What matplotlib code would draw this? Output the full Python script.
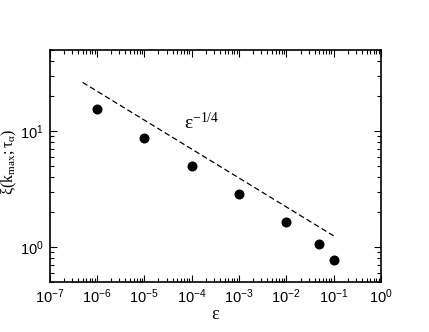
#!/usr/bin/env python3

import math
import matplotlib as mpl
import matplotlib.pyplot as plt
from matplotlib.ticker import LogLocator, FuncFormatter, NullFormatter

# data
eps = [1e-6, 1e-5, 1e-4, 1e-3, 1e-2, 5e-2, 1e-1]
xi = [15.4, 8.7, 4.97, 2.86, 1.66, 1.07, 0.77]

# dashed guide line eps^-1/4 (end points)
guide_x = [5e-7, 1e-1]
guide_y = [26.3, 1.25]

mpl.rcParams['mathtext.fontset'] = 'custom'
mpl.rcParams['mathtext.rm'] = 'Liberation Serif'
mpl.rcParams['mathtext.it'] = 'Liberation Serif:italic'
mpl.rcParams['mathtext.sf'] = 'Liberation Sans'
mpl.rcParams['font.family'] = ['Liberation Sans', 'DejaVu Sans']

fig = plt.figure(figsize=(4.29, 3.32), dpi=100)
ax = fig.add_axes([0.1154, 0.1506, 0.7726, 0.6988])

ax.plot(eps, xi, 'o', color='black', markersize=6.2, zorder=3)
ax.plot(guide_x, guide_y, '--', color='black', linewidth=0.9, dashes=(4.5, 2.5))

ax.set_xscale('log')
ax.set_yscale('log')
ax.set_xlim(1e-7, 1e0)
ax.set_ylim(0.5, 50)

fmt = FuncFormatter(lambda v, p: r'$\mathsf{10^{%d}}$' % round(math.log10(v)))
ax.xaxis.set_major_locator(LogLocator(base=10, numticks=20))
ax.xaxis.set_minor_locator(LogLocator(base=10, subs=range(2, 10), numticks=100))
ax.yaxis.set_major_locator(LogLocator(base=10, numticks=20))
ax.yaxis.set_minor_locator(LogLocator(base=10, subs=range(2, 10), numticks=100))
ax.xaxis.set_major_formatter(fmt)
ax.yaxis.set_major_formatter(fmt)
ax.xaxis.set_minor_formatter(NullFormatter())
ax.yaxis.set_minor_formatter(NullFormatter())

ax.tick_params(which='both', direction='in', top=True, right=True, labelsize=10.5, width=0.8)
ax.tick_params(which='major', length=5, pad=4)
ax.tick_params(which='minor', length=3)
for s in ax.spines.values():
    s.set_linewidth(1.2)

ax.set_xlabel('ε', family='Liberation Serif', fontsize=13, labelpad=0)
ax.set_ylabel(r'$\mathrm{ξ(k_{max};τ_{α})}$', fontsize=11.5)
ax.yaxis.set_label_coords(-0.093, 0.52)
ax.text(7e-5, 10.3, r'$\mathrm{ε^{−1/4}}$', fontsize=14)

plt.savefig('out.png', dpi=100)
